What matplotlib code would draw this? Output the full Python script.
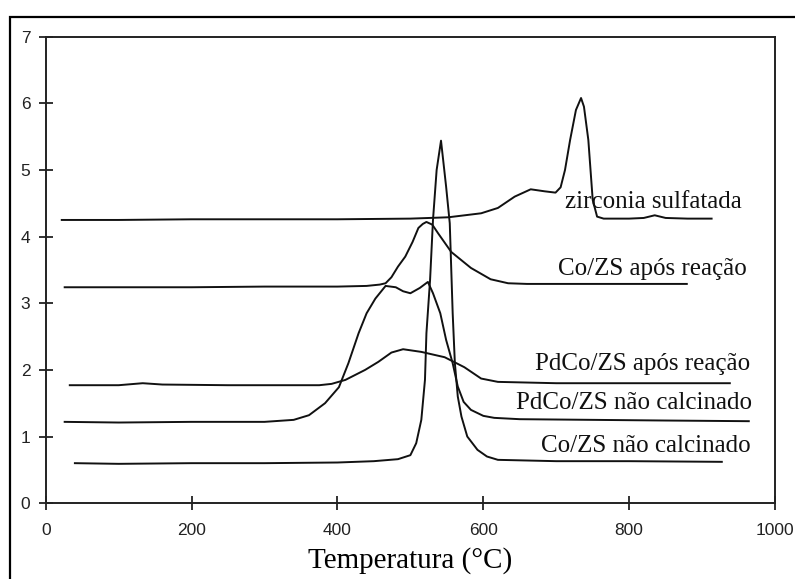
import matplotlib
matplotlib.use("Agg")
from matplotlib import pyplot as plt
from matplotlib.patches import Rectangle

# TPR curves (temperature in C, signal in a.u.)
zs_temp = [22, 100, 200, 300, 400, 500, 552, 597, 620, 643, 665, 684, 699, 706, 712, 719,
           727, 734, 738, 744, 750, 756, 765, 800, 820, 835, 850, 880, 913]
zs_sig = [4.25, 4.25, 4.26, 4.26, 4.26, 4.27, 4.29, 4.35, 4.43, 4.60, 4.71, 4.68, 4.66, 4.74, 5.0, 5.45,
          5.9, 6.08, 5.95, 5.45, 4.55, 4.30, 4.27, 4.27, 4.28, 4.32, 4.28, 4.27, 4.27]

co_ar_temp = [26, 100, 200, 300, 400, 440, 458, 466, 474, 483, 493, 503, 511, 517, 522, 530,
              538, 556, 583, 610, 634, 660, 750, 879]
co_ar_sig = [3.24, 3.24, 3.24, 3.25, 3.25, 3.26, 3.28, 3.30, 3.39, 3.55, 3.70, 3.92, 4.13, 4.19, 4.22, 4.18,
             4.05, 3.77, 3.53, 3.36, 3.30, 3.29, 3.29, 3.29]

pd_ar_temp = [33, 100, 133, 160, 250, 375, 392, 411, 438, 456, 474, 490, 515, 547, 574, 597,
              620, 700, 800, 938]
pd_ar_sig = [1.77, 1.77, 1.80, 1.78, 1.77, 1.77, 1.79, 1.85, 2.0, 2.12, 2.26, 2.31, 2.27, 2.19, 2.04, 1.87,
             1.82, 1.80, 1.80, 1.80]

pd_nc_temp = [26, 100, 200, 300, 340, 361, 383, 402, 415, 429, 440, 452, 466, 480, 490, 500,
              513, 524, 531, 541, 549, 558, 565, 573, 583, 600, 615, 650, 750, 850, 964]
pd_nc_sig = [1.22, 1.21, 1.22, 1.22, 1.25, 1.32, 1.50, 1.74, 2.10, 2.55, 2.85, 3.07, 3.26, 3.24, 3.18, 3.15,
             3.23, 3.32, 3.15, 2.85, 2.45, 2.10, 1.75, 1.52, 1.40, 1.31, 1.28, 1.26, 1.25, 1.24, 1.23]

co_nc_temp = [40, 100, 200, 300, 400, 450, 483, 500, 508, 515, 520, 522, 527, 531, 536, 542,
              549, 554, 558, 561, 565, 570, 578, 592, 605, 620, 700, 800, 927]
co_nc_sig = [0.60, 0.59, 0.60, 0.60, 0.61, 0.63, 0.66, 0.72, 0.90, 1.25, 1.85, 2.55, 3.35, 4.25, 5.0, 5.44,
             4.75, 4.20, 2.85, 2.10, 1.60, 1.30, 1.00, 0.80, 0.70, 0.65, 0.63, 0.63, 0.62]

labels = ["zirconia sulfatada", "Co/ZS após reação", "PdCo/ZS após reação",
          "PdCo/ZS não calcinado", "Co/ZS não calcinado"]

fig = plt.figure(figsize=(7.95, 5.79), dpi=100)
ax = fig.add_axes([0.0575, 0.131, 0.9174, 0.8056])

# outer frame of the original figure (runs off the right/bottom edge)
fig.patches.append(Rectangle((10 / 795, -0.1), 1.2, 1 - 17 / 579 + 0.1, transform=fig.transFigure,
                             fill=False, edgecolor="black", linewidth=1.6))

curves = [(zs_temp, zs_sig), (co_ar_temp, co_ar_sig), (pd_ar_temp, pd_ar_sig),
          (pd_nc_temp, pd_nc_sig), (co_nc_temp, co_nc_sig)]
for t, s in curves:
    ax.plot(t, s, color="#111111", linewidth=1.4)

# labels sit right-aligned next to each curve's plateau
label_pos = [(954, 4.43), (961, 3.42), (966, 2.0), (969, 1.41), (966, 0.77)]
for text, (x, y) in zip(labels, label_pos):
    ax.text(x, y, text, ha="right", va="baseline", fontsize=18,
            family="Liberation Serif", color="#111111")

ax.set_xlim(0, 1000)
ax.set_ylim(0, 7)
ax.set_xticks([0, 200, 400, 600, 800, 1000])
ax.set_yticks(range(8))
ax.tick_params(direction="inout", length=10, width=1.3, color="#222222",
               labelsize=12.5, labelcolor="#222222")
ax.tick_params(axis="x", pad=9)
ax.tick_params(axis="y", pad=6)
for lbl in ax.get_xticklabels() + ax.get_yticklabels():
    lbl.set_family("Liberation Sans")
for sp in ax.spines.values():
    sp.set_color("#222222")
    sp.set_linewidth(1.4)

ax.set_xlabel("Temperatura (°C)", fontsize=21, family="Liberation Serif", labelpad=7)

fig.savefig("out.png", dpi=100)
